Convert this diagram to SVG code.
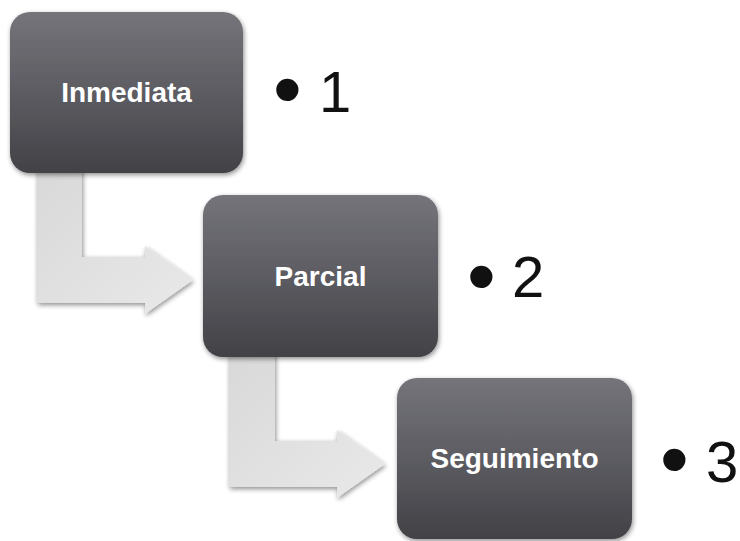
<svg xmlns="http://www.w3.org/2000/svg" width="740" height="541" viewBox="0 0 740 541">
<defs>
  <linearGradient id="boxGrad" x1="0" y1="0" x2="0" y2="1">
    <stop offset="0" stop-color="#74747a"/>
    <stop offset="0.5" stop-color="#5c5c62"/>
    <stop offset="1" stop-color="#424246"/>
  </linearGradient>
  <linearGradient id="arrowGrad" x1="0" y1="0" x2="1" y2="1">
    <stop offset="0" stop-color="#d8d8d8"/>
    <stop offset="1" stop-color="#e9e9e9"/>
  </linearGradient>
  <filter id="shadow" x="-10%" y="-10%" width="125%" height="125%">
    <feGaussianBlur in="SourceAlpha" stdDeviation="2.5"/>
    <feOffset dx="1" dy="2" result="b"/>
    <feComponentTransfer><feFuncA type="linear" slope="0.45"/></feComponentTransfer>
    <feMerge><feMergeNode/><feMergeNode in="SourceGraphic"/></feMerge>
  </filter>
</defs>
<style>
  .box { fill: url(#boxGrad); filter: url(#shadow); }
  .arrow { fill: url(#arrowGrad); filter: url(#shadow); }
  .nodeText { font-family: "Liberation Sans", Arial, sans-serif; font-weight: bold; font-size: 28px; fill: #ffffff; text-anchor: middle; }
  .lbl { font-family: "Liberation Sans", Arial, sans-serif; font-size: 58px; fill: #111111; }
  .dot { font-size: 82px; }
</style>
<rect width="740" height="541" fill="#ffffff"/>
<g id="connectors">
  <path class="arrow" d="M37,165 H82 V257 H145 V246 L193,280 L145,314 V303 H37 Z"/>
  <path class="arrow" d="M229,349 H275 V441 H337 V430 L385,464 L337,498 V487 H229 Z"/>
</g>
<g id="node1">
  <rect class="box" x="10" y="12" width="233" height="161" rx="20" ry="20"/>
  <text class="nodeText" x="126.5" y="102">Inmediata</text>
</g>
<g id="node2">
  <rect class="box" x="203" y="195" width="235" height="162" rx="20" ry="20"/>
  <text class="nodeText" x="320.5" y="286">Parcial</text>
</g>
<g id="node3">
  <rect class="box" x="397" y="378" width="235" height="161" rx="20" ry="20"/>
  <text class="nodeText" x="514.5" y="468">Seguimiento</text>
</g>
<g id="label1">
  <text class="lbl"><tspan class="dot" x="273" y="117">•</tspan><tspan x="319" y="112">1</tspan></text>
</g>
<g id="label2">
  <text class="lbl"><tspan class="dot" x="467" y="304">•</tspan><tspan x="512" y="297">2</tspan></text>
</g>
<g id="label3">
  <text class="lbl"><tspan class="dot" x="660" y="487">•</tspan><tspan x="706" y="482">3</tspan></text>
</g>
</svg>
